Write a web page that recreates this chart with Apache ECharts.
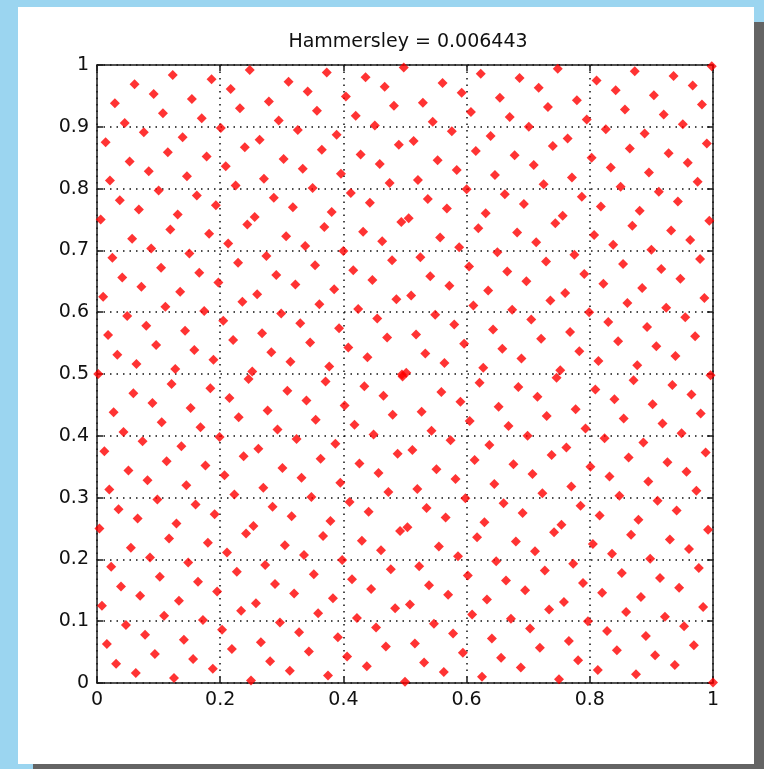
<!DOCTYPE html>
<html>
<head>
<meta charset="utf-8">
<title>Hammersley</title>
<script src="https://cdn.jsdelivr.net/npm/echarts@6/dist/echarts.min.js"></script>
<style>
html, body { margin: 0; padding: 0; width: 764px; height: 769px; overflow: hidden; background: #9bd5f0; }
#shadow { position: absolute; left: 33px; top: 22px; width: 731px; height: 747px; background: #646464; }
#paper { position: absolute; left: 18px; top: 7px; width: 736px; height: 757px; background: #fff; }
#chart { position: absolute; left: 0; top: 0; width: 764px; height: 769px; }
</style>
</head>
<body>
<div id="shadow"></div>
<div id="paper"></div>
<div id="chart"></div>
<script>
var titleText = 'Hammersley = 0.006443'

// x of each point, read left to right
var xs = [
  0.002, 0.004, 0.006, 0.008, 0.010, 0.012, 0.014,
  0.016, 0.018, 0.020, 0.021, 0.023, 0.025, 0.027, 0.029,
  0.031, 0.033, 0.035, 0.037, 0.039, 0.041, 0.043, 0.045,
  0.047, 0.049, 0.051, 0.053, 0.055, 0.057, 0.059, 0.061,
  0.063, 0.064, 0.066, 0.068, 0.070, 0.072, 0.074, 0.076,
  0.078, 0.080, 0.082, 0.084, 0.086, 0.088, 0.090, 0.092,
  0.094, 0.096, 0.098, 0.100, 0.102, 0.104, 0.105, 0.107,
  0.109, 0.111, 0.113, 0.115, 0.117, 0.119, 0.121, 0.123,
  0.125, 0.127, 0.129, 0.131, 0.133, 0.135, 0.137, 0.139,
  0.141, 0.143, 0.145, 0.146, 0.148, 0.150, 0.152, 0.154,
  0.156, 0.158, 0.160, 0.162, 0.164, 0.166, 0.168, 0.170,
  0.172, 0.174, 0.176, 0.178, 0.180, 0.182, 0.184, 0.186,
  0.188, 0.189, 0.191, 0.193, 0.195, 0.197, 0.199, 0.201,
  0.203, 0.205, 0.207, 0.209, 0.211, 0.213, 0.215, 0.217,
  0.219, 0.221, 0.223, 0.225, 0.227, 0.229, 0.230, 0.232,
  0.234, 0.236, 0.238, 0.240, 0.242, 0.244, 0.246, 0.248,
  0.250, 0.252, 0.254, 0.256, 0.258, 0.260, 0.262, 0.264,
  0.266, 0.268, 0.270, 0.271, 0.273, 0.275, 0.277, 0.279,
  0.281, 0.283, 0.285, 0.287, 0.289, 0.291, 0.293, 0.295,
  0.297, 0.299, 0.301, 0.303, 0.305, 0.307, 0.309, 0.311,
  0.313, 0.314, 0.316, 0.318, 0.320, 0.322, 0.324, 0.326,
  0.328, 0.330, 0.332, 0.334, 0.336, 0.338, 0.340, 0.342,
  0.344, 0.346, 0.348, 0.350, 0.352, 0.354, 0.355, 0.357,
  0.359, 0.361, 0.363, 0.365, 0.367, 0.369, 0.371, 0.373,
  0.375, 0.377, 0.379, 0.381, 0.383, 0.385, 0.387, 0.389,
  0.391, 0.393, 0.395, 0.396, 0.398, 0.400, 0.402, 0.404,
  0.406, 0.408, 0.410, 0.412, 0.414, 0.416, 0.418, 0.420,
  0.422, 0.424, 0.426, 0.428, 0.430, 0.432, 0.434, 0.436,
  0.438, 0.439, 0.441, 0.443, 0.445, 0.447, 0.449, 0.451,
  0.453, 0.455, 0.457, 0.459, 0.461, 0.463, 0.465, 0.467,
  0.469, 0.471, 0.473, 0.475, 0.477, 0.479, 0.480, 0.482,
  0.484, 0.486, 0.488, 0.490, 0.492, 0.494, 0.496, 0.498,
  0.500, 0.502, 0.504, 0.506, 0.508, 0.510, 0.512, 0.514,
  0.516, 0.518, 0.520, 0.521, 0.523, 0.525, 0.527, 0.529,
  0.531, 0.533, 0.535, 0.537, 0.539, 0.541, 0.543, 0.545,
  0.547, 0.549, 0.551, 0.553, 0.555, 0.557, 0.559, 0.561,
  0.563, 0.564, 0.566, 0.568, 0.570, 0.572, 0.574, 0.576,
  0.578, 0.580, 0.582, 0.584, 0.586, 0.588, 0.590, 0.592,
  0.594, 0.596, 0.598, 0.600, 0.602, 0.604, 0.605, 0.607,
  0.609, 0.611, 0.613, 0.615, 0.617, 0.619, 0.621, 0.623,
  0.625, 0.627, 0.629, 0.631, 0.633, 0.635, 0.637, 0.639,
  0.641, 0.643, 0.645, 0.646, 0.648, 0.650, 0.652, 0.654,
  0.656, 0.658, 0.660, 0.662, 0.664, 0.666, 0.668, 0.670,
  0.672, 0.674, 0.676, 0.678, 0.680, 0.682, 0.684, 0.686,
  0.688, 0.689, 0.691, 0.693, 0.695, 0.697, 0.699, 0.701,
  0.703, 0.705, 0.707, 0.709, 0.711, 0.713, 0.715, 0.717,
  0.719, 0.721, 0.723, 0.725, 0.727, 0.729, 0.730, 0.732,
  0.734, 0.736, 0.738, 0.740, 0.742, 0.744, 0.746, 0.748,
  0.750, 0.752, 0.754, 0.756, 0.758, 0.760, 0.762, 0.764,
  0.766, 0.768, 0.770, 0.771, 0.773, 0.775, 0.777, 0.779,
  0.781, 0.783, 0.785, 0.787, 0.789, 0.791, 0.793, 0.795,
  0.797, 0.799, 0.801, 0.803, 0.805, 0.807, 0.809, 0.811,
  0.813, 0.814, 0.816, 0.818, 0.820, 0.822, 0.824, 0.826,
  0.828, 0.830, 0.832, 0.834, 0.836, 0.838, 0.840, 0.842,
  0.844, 0.846, 0.848, 0.850, 0.852, 0.854, 0.855, 0.857,
  0.859, 0.861, 0.863, 0.865, 0.867, 0.869, 0.871, 0.873,
  0.875, 0.877, 0.879, 0.881, 0.883, 0.885, 0.887, 0.889,
  0.891, 0.893, 0.895, 0.896, 0.898, 0.900, 0.902, 0.904,
  0.906, 0.908, 0.910, 0.912, 0.914, 0.916, 0.918, 0.920,
  0.922, 0.924, 0.926, 0.928, 0.930, 0.932, 0.934, 0.936,
  0.938, 0.939, 0.941, 0.943, 0.945, 0.947, 0.949, 0.951,
  0.953, 0.955, 0.957, 0.959, 0.961, 0.963, 0.965, 0.967,
  0.969, 0.971, 0.973, 0.975, 0.977, 0.979, 0.980, 0.982,
  0.984, 0.986, 0.988, 0.990, 0.992, 0.994, 0.996, 0.998,
  1.000, 0.495
]

// y of each point, same order as xs
var ys = [
  0.5, 0.25, 0.75, 0.125, 0.625, 0.375, 0.875,
  0.063, 0.563, 0.313, 0.813, 0.188, 0.688, 0.438, 0.938,
  0.031, 0.531, 0.281, 0.781, 0.156, 0.656, 0.406, 0.906,
  0.094, 0.594, 0.344, 0.844, 0.219, 0.719, 0.469, 0.969,
  0.016, 0.516, 0.266, 0.766, 0.141, 0.641, 0.391, 0.891,
  0.078, 0.578, 0.328, 0.828, 0.203, 0.703, 0.453, 0.953,
  0.047, 0.547, 0.297, 0.797, 0.172, 0.672, 0.422, 0.922,
  0.109, 0.609, 0.359, 0.859, 0.234, 0.734, 0.484, 0.984,
  0.008, 0.508, 0.258, 0.758, 0.133, 0.633, 0.383, 0.883,
  0.070, 0.570, 0.320, 0.820, 0.195, 0.695, 0.445, 0.945,
  0.039, 0.539, 0.289, 0.789, 0.164, 0.664, 0.414, 0.914,
  0.102, 0.602, 0.352, 0.852, 0.227, 0.727, 0.477, 0.977,
  0.023, 0.523, 0.273, 0.773, 0.148, 0.648, 0.398, 0.898,
  0.086, 0.586, 0.336, 0.836, 0.211, 0.711, 0.461, 0.961,
  0.055, 0.555, 0.305, 0.805, 0.180, 0.680, 0.430, 0.930,
  0.117, 0.617, 0.367, 0.867, 0.242, 0.742, 0.492, 0.992,
  0.004, 0.504, 0.254, 0.754, 0.129, 0.629, 0.379, 0.879,
  0.066, 0.566, 0.316, 0.816, 0.191, 0.691, 0.441, 0.941,
  0.035, 0.535, 0.285, 0.785, 0.160, 0.660, 0.410, 0.910,
  0.098, 0.598, 0.348, 0.848, 0.223, 0.723, 0.473, 0.973,
  0.020, 0.520, 0.270, 0.770, 0.145, 0.645, 0.395, 0.895,
  0.082, 0.582, 0.332, 0.832, 0.207, 0.707, 0.457, 0.957,
  0.051, 0.551, 0.301, 0.801, 0.176, 0.676, 0.426, 0.926,
  0.113, 0.613, 0.363, 0.863, 0.238, 0.738, 0.488, 0.988,
  0.012, 0.512, 0.262, 0.762, 0.137, 0.637, 0.387, 0.887,
  0.074, 0.574, 0.324, 0.824, 0.199, 0.699, 0.449, 0.949,
  0.043, 0.543, 0.293, 0.793, 0.168, 0.668, 0.418, 0.918,
  0.105, 0.605, 0.355, 0.855, 0.230, 0.730, 0.480, 0.980,
  0.027, 0.527, 0.277, 0.777, 0.152, 0.652, 0.402, 0.902,
  0.090, 0.590, 0.340, 0.840, 0.215, 0.715, 0.465, 0.965,
  0.059, 0.559, 0.309, 0.809, 0.184, 0.684, 0.434, 0.934,
  0.121, 0.621, 0.371, 0.871, 0.246, 0.746, 0.496, 0.996,
  0.002, 0.502, 0.252, 0.752, 0.127, 0.627, 0.377, 0.877,
  0.064, 0.564, 0.314, 0.814, 0.189, 0.689, 0.439, 0.939,
  0.033, 0.533, 0.283, 0.783, 0.158, 0.658, 0.408, 0.908,
  0.096, 0.596, 0.346, 0.846, 0.221, 0.721, 0.471, 0.971,
  0.018, 0.518, 0.268, 0.768, 0.143, 0.643, 0.393, 0.893,
  0.080, 0.580, 0.330, 0.830, 0.205, 0.705, 0.455, 0.955,
  0.049, 0.549, 0.299, 0.799, 0.174, 0.674, 0.424, 0.924,
  0.111, 0.611, 0.361, 0.861, 0.236, 0.736, 0.486, 0.986,
  0.010, 0.510, 0.260, 0.760, 0.135, 0.635, 0.385, 0.885,
  0.072, 0.572, 0.322, 0.822, 0.197, 0.697, 0.447, 0.947,
  0.041, 0.541, 0.291, 0.791, 0.166, 0.666, 0.416, 0.916,
  0.104, 0.604, 0.354, 0.854, 0.229, 0.729, 0.479, 0.979,
  0.025, 0.525, 0.275, 0.775, 0.150, 0.650, 0.400, 0.900,
  0.088, 0.588, 0.338, 0.838, 0.213, 0.713, 0.463, 0.963,
  0.057, 0.557, 0.307, 0.807, 0.182, 0.682, 0.432, 0.932,
  0.119, 0.619, 0.369, 0.869, 0.244, 0.744, 0.494, 0.994,
  0.006, 0.506, 0.256, 0.756, 0.131, 0.631, 0.381, 0.881,
  0.068, 0.568, 0.318, 0.818, 0.193, 0.693, 0.443, 0.943,
  0.037, 0.537, 0.287, 0.787, 0.162, 0.662, 0.412, 0.912,
  0.100, 0.600, 0.350, 0.850, 0.225, 0.725, 0.475, 0.975,
  0.021, 0.521, 0.271, 0.771, 0.146, 0.646, 0.396, 0.896,
  0.084, 0.584, 0.334, 0.834, 0.209, 0.709, 0.459, 0.959,
  0.053, 0.553, 0.303, 0.803, 0.178, 0.678, 0.428, 0.928,
  0.115, 0.615, 0.365, 0.865, 0.240, 0.740, 0.490, 0.990,
  0.014, 0.514, 0.264, 0.764, 0.139, 0.639, 0.389, 0.889,
  0.076, 0.576, 0.326, 0.826, 0.201, 0.701, 0.451, 0.951,
  0.045, 0.545, 0.295, 0.795, 0.170, 0.670, 0.420, 0.920,
  0.107, 0.607, 0.357, 0.857, 0.232, 0.732, 0.482, 0.982,
  0.029, 0.529, 0.279, 0.779, 0.154, 0.654, 0.404, 0.904,
  0.092, 0.592, 0.342, 0.842, 0.217, 0.717, 0.467, 0.967,
  0.061, 0.561, 0.311, 0.811, 0.186, 0.686, 0.436, 0.936,
  0.123, 0.623, 0.373, 0.873, 0.248, 0.748, 0.498, 0.998,
  0.001, 0.499
]

var fontFamily = '"DejaVu Sans", sans-serif'
var axisColor = '#1a1a1a'

function makeAxis(position, interval, main) {
  return {
    type: 'value',
    min: 0,
    max: 1,
    interval: interval,
    position: position,
    axisLine: { show: true, onZero: false, lineStyle: { color: axisColor, width: 1.5 } },
    axisTick: { show: true, inside: true, length: 6, lineStyle: { color: axisColor, width: 1.5 } },
    axisLabel: { show: main, color: '#111', fontSize: 19, fontFamily: fontFamily, margin: 8 },
    splitLine: { show: main, lineStyle: { color: '#111', type: [1.5, 5], width: 1.5 } }
  }
}

var points = xs.map(function(x, k) {
  return [x, ys[k]]
})

var myChart = echarts.init(document.getElementById('chart'), null, { renderer: 'canvas' })

var option = {
  animation: false,
  backgroundColor: 'transparent',
  title: {
    text: titleText,
    left: 403,
    top: 28,
    textAlign: 'center',
    textStyle: { color: '#111', fontSize: 19, fontWeight: 'normal', fontFamily: fontFamily }
  },
  grid: { left: 97, top: 65, width: 616, height: 618 },
  xAxis: [makeAxis('bottom', 0.2, true), makeAxis('top', 0.2, false)],
  yAxis: [makeAxis('left', 0.1, true), makeAxis('right', 0.1, false)],
  series: [
    {
      type: 'scatter',
      data: points,
      symbol: 'diamond',
      symbolSize: 10,
      clip: false,
      itemStyle: { color: '#ff0000' }
    }
  ]
}

option && myChart.setOption(option)
</script>
</body>
</html>
